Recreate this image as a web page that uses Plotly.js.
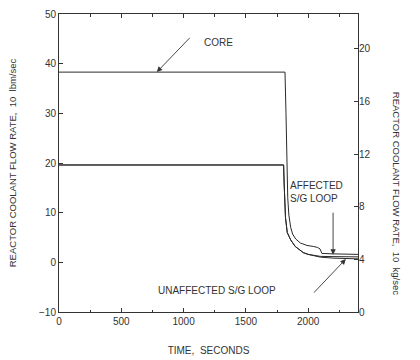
<!DOCTYPE html>
<html>
<head>
<meta charset="utf-8">
<script src="https://cdn.plot.ly/plotly-3.0.1.min.js"></script>
<style>html,body{margin:0;padding:0;background:#fff;}#chart{width:420px;height:360px;}</style>
</head>
<body>
<div id="chart"></div>
<script>
// Time axis (seconds)
var coreTime = [0, 1814, 1822, 1830, 1836, 1845, 1860, 1875, 1900, 1937, 1990, 2041, 2075, 2095, 2110, 2200, 2400];
var coreFlow = [38.3, 38.3, 30, 20, 13, 9.5, 7.0, 5.7, 4.7, 3.9, 3.4, 3.2, 3.0, 2.7, 1.8, 1.7, 1.6];

var loopTime = [0, 1803, 1807, 1811, 1818, 1832, 1860, 1896, 1930, 1961, 2000, 2050, 2097, 2200, 2400];
var affectedFlow = [19.6, 19.6, 16, 12.5, 9, 6.0, 4.5, 3.2, 2.5, 1.95, 1.6, 1.35, 1.2, 1.15, 1.1];
var unaffectedFlow = [19.6, 19.6, 16, 12.5, 9, 6.0, 4.5, 3.2, 2.5, 1.95, 1.6, 1.3, 1.05, 0.85, 0.7];

var lineColor = '#2a2a2a';
var font = 'Liberation Sans, Arial, sans-serif';

var traces = [
  {x: coreTime, y: coreFlow, mode: 'lines', line: {color: lineColor, width: 1.0}, name: 'CORE', hoverinfo: 'skip'},
  {x: loopTime, y: affectedFlow, mode: 'lines', line: {color: lineColor, width: 1.0}, name: 'AFFECTED S/G LOOP', hoverinfo: 'skip'},
  {x: loopTime, y: unaffectedFlow, mode: 'lines', line: {color: lineColor, width: 1.0}, name: 'UNAFFECTED S/G LOOP', hoverinfo: 'skip'},
  {x: [], y: [], yaxis: 'y2', mode: 'lines', showlegend: false, hoverinfo: 'skip'}
];

var layout = {
  width: 420, height: 360,
  margin: {l: 59, r: 62, t: 14, b: 48},
  paper_bgcolor: '#fff', plot_bgcolor: '#fff',
  showlegend: false,
  font: {family: font, size: 10, color: '#333'},
  xaxis: {
    range: [0, 2400], dtick: 500, tick0: 0,
    ticks: 'inside', ticklen: 4, tickcolor: '#333',
    minor: {dtick: 250, ticks: 'inside', ticklen: 2.5, tickcolor: '#333'},
    showline: true, linecolor: '#333', linewidth: 1, mirror: 'ticks',
    showgrid: false, zeroline: false,
    tickfont: {size: 10, color: '#333'},
    title: {text: 'TIME,  SECONDS', font: {size: 10, color: '#333'}, standoff: 20}
  },
  yaxis: {
    range: [-10, 50], dtick: 10,
    ticks: 'inside', ticklen: 4, tickcolor: '#333',
    showline: true, linecolor: '#333', linewidth: 1, mirror: true,
    showgrid: false, zeroline: false,
    tickfont: {size: 10, color: '#333'},
    title: {text: 'REACTOR COOLANT FLOW RATE,  10  lbm/sec', font: {size: 9.5, color: '#333'}, standoff: 20}
  },
  yaxis2: {
    overlaying: 'y', side: 'right',
    range: [0, 22.65], dtick: 4,
    ticks: 'inside', ticklen: 4, tickcolor: '#333',
    showline: false, showgrid: false, zeroline: false,
    tickfont: {size: 10, color: '#333'}
  },
  annotations: [
    {x: 785, y: 38.3, ax: 1061, ay: 45.5, axref: 'x', ayref: 'y', xref: 'x', yref: 'y',
     text: '', showarrow: true, arrowhead: 2, arrowsize: 1.2, arrowwidth: 0.9, arrowcolor: '#333'},
    {x: 1150, y: 44.2, xref: 'x', yref: 'y', text: 'CORE', showarrow: false, xanchor: 'left',
     font: {size: 10, color: '#333'}},
    {x: 1838, y: 14.1, xref: 'x', yref: 'y', text: 'AFFECTED<br>S/G LOOP', showarrow: false,
     xanchor: 'left', align: 'left', font: {size: 10, color: '#333'}},
    {x: 2200, y: 1.55, ax: 2200, ay: 10.3, axref: 'x', ayref: 'y', xref: 'x', yref: 'y',
     text: '', showarrow: true, arrowhead: 2, arrowsize: 1.2, arrowwidth: 0.9, arrowcolor: '#333'},
    {x: 2302, y: 0.65, ax: 2035, ay: -6.4, axref: 'x', ayref: 'y', xref: 'x', yref: 'y',
     text: '', showarrow: true, arrowhead: 2, arrowsize: 1.2, arrowwidth: 0.9, arrowcolor: '#333'},
    {x: 1270, y: -5.7, xref: 'x', yref: 'y', text: 'UNAFFECTED S/G LOOP', showarrow: false,
     xanchor: 'center', font: {size: 10, color: '#333'}},
    {x: 1.0, xref: 'paper', xanchor: 'center', xshift: 38, y: 0.4, yref: 'paper', yanchor: 'middle',
     text: 'REACTOR COOLANT FLOW RATE,  10  kg/sec', textangle: 90, showarrow: false,
     font: {size: 9.5, color: '#333'}}
  ]
};

Plotly.newPlot('chart', traces, layout, {staticPlot: true, displayModeBar: false});
</script>
</body>
</html>
